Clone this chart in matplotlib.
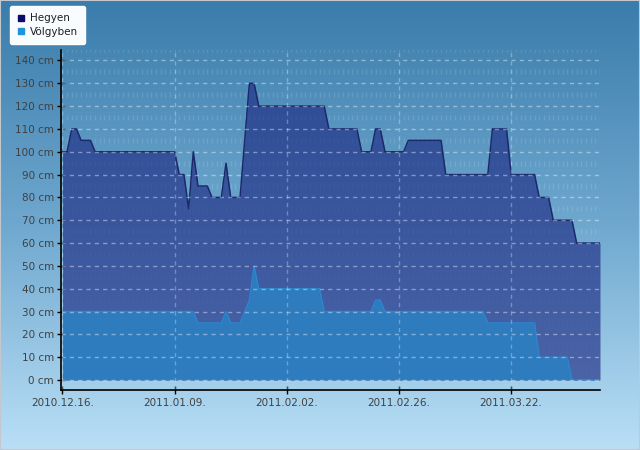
import numpy as np
import matplotlib
matplotlib.use("Agg")
import matplotlib.pyplot as plt
from matplotlib.lines import Line2D
from matplotlib.collections import LineCollection
from matplotlib.colors import LinearSegmentedColormap

# daily snow depth (cm), starting 2010.12.16.
hegyen = ([100, 100, 110, 110, 105, 105, 105] + [100] * 18 +
          [90, 90, 75, 100, 85, 85, 85, 80, 80, 80, 95, 80, 80, 80, 105, 130, 130] +
          [120] * 15 + [110] * 7 + [100, 100, 100, 110, 110] + [100] * 5 +
          [105] * 8 + [90] * 10 + [110] * 4 + [90] * 6 + [80] * 3 + [70] * 5 + [60] * 6)
volgyben = ([30] * 29 + [25] * 6 + [30] + [25] * 3 + [30, 35, 50] + [40] * 14 +
            [30] * 11 + [35, 35] + [30] * 22 + [25] * 11 + [10] * 7 + [0] * 7)
series_names = ["Hegyen", "Völgyben"]
tick_days = [0, 24, 48, 72, 96]
tick_labels = ["2010.12.16.", "2011.01.09.", "2011.02.02.", "2011.02.26.", "2011.03.22."]
y_ticks = list(range(0, 150, 10))

days = np.arange(len(hegyen))

W, H = 640, 450
fig = plt.figure(figsize=(6.4, 4.5), dpi=100)

# background gradient
bg = fig.add_axes([0, 0, 1, 1], zorder=0)
cmap = LinearSegmentedColormap.from_list("bg", ["#3a7cab", "#6fa8cf", "#b9dff6"])
bg.imshow(np.linspace(0, 1, 256)[:, None], cmap=cmap, aspect="auto", extent=[0, 1, 0, 1])
bg.set_xlim(0, 1)
bg.set_ylim(0, 1)
bg.axis("off")
bg.add_patch(plt.Rectangle((0, 0), 1, 1, transform=bg.transAxes, fill=False,
                           edgecolor="#c4c8cc", lw=1.5))

ax = fig.add_axes([61 / W, 1 - 390 / H, (600 - 61) / W, (390 - 50) / H], zorder=1)
ax.patch.set_alpha(0)
ax.set_xlim(-0.3, 115.0)
ax.set_ylim(-4.4, 144.6)

# faint minor pattern: short vertical marks each day, between the grid lines
segs = []
for d in np.arange(-1, 117):
    for k in range(-1, 15):
        segs.append([(d, k * 10 + 3.9), (d, k * 10 + 6.1)])
ax.add_collection(LineCollection(segs, colors="white", alpha=0.12, lw=1, zorder=1))

ax.fill_between(days, hegyen, 0, color="#1e2c84", alpha=0.66, lw=0, zorder=2)
ax.plot(days, hegyen, color="#1c2a6c", lw=1.1, zorder=4)
ax.fill_between(days, volgyben, 0, color="#2e7bbd", lw=0, zorder=3)
ax.plot(days, volgyben, color="#2b86d0", lw=1.0, zorder=3)

# grid
for y in y_ticks:
    ax.axhline(y, color="white", alpha=0.4, lw=1, ls=(0, (3, 3)), zorder=5)
for x in tick_days:
    ax.axvline(x, color="white", alpha=0.3, lw=1, ls=(0, (3, 3)), zorder=5)

for s in ["top", "right"]:
    ax.spines[s].set_visible(False)
for s in ["left", "bottom"]:
    ax.spines[s].set_color("black")
    ax.spines[s].set_linewidth(1.2)
    ax.spines[s].set_zorder(6)

ax.set_yticks(y_ticks)
ax.set_yticklabels([f"{v} cm" for v in y_ticks])
ax.set_xticks(tick_days)
ax.set_xticklabels(tick_labels)
ax.tick_params(axis="both", direction="inout", length=6, width=1, color="black",
               labelsize=7.5, labelcolor="#404040")
ax.tick_params(axis="y", pad=2)
ax.tick_params(axis="x", pad=3)

handles = [Line2D([], [], marker="s", ls="", color="#0b0b6b", markersize=5),
           Line2D([], [], marker="s", ls="", color="#1e92da", markersize=5)]
leg = fig.legend(handles, series_names, loc="upper left",
                 bbox_to_anchor=(10 / W, 1 - 6 / H), borderaxespad=0,
                 fontsize=7.5, handlelength=0.7, handletextpad=0.5,
                 labelspacing=0.35, borderpad=0.7, fancybox=True,
                 framealpha=1, edgecolor="white", facecolor="#f8fcff")
for t in leg.get_texts():
    t.set_color("#202020")

fig.savefig("out.png", dpi=100)
